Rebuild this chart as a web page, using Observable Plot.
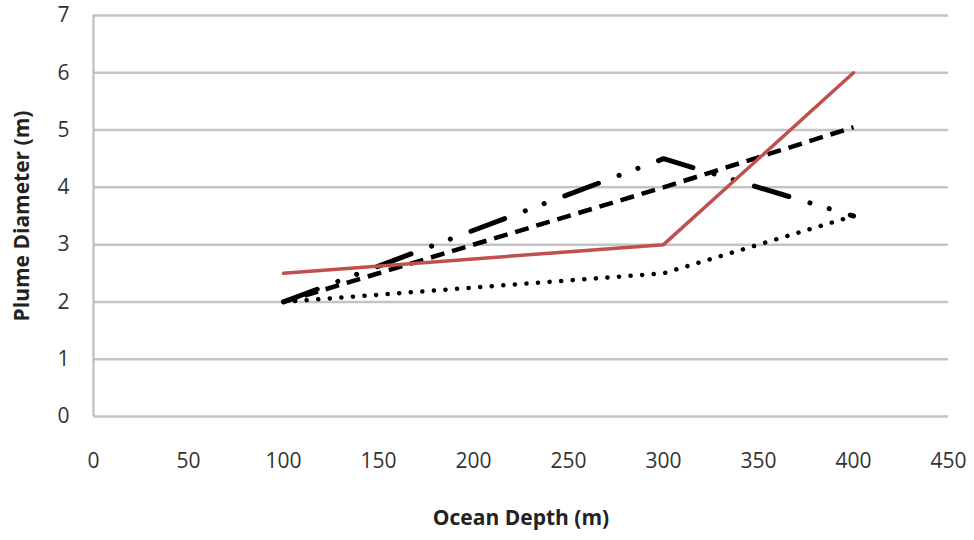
<!DOCTYPE html>
<html>
<head>
<meta charset="utf-8">
<script src="https://cdn.jsdelivr.net/npm/d3@7"></script>
<script src="https://cdn.jsdelivr.net/npm/@observablehq/plot@0.6"></script>
<style>
  html, body { margin: 0; padding: 0; background: #fff; }
  #chart { width: 974px; height: 540px; }
</style>
</head>
<body>
<div id="chart"></div>
<script>
const depths = [100, 300, 400];
const solidRed = [2.5, 3.0, 6.0];
const dashed = [2.0, 4.0, 5.05];
const dashDotDot = [2.0, 4.5, 3.5];
const dotted = [2.0, 2.5, 3.5];
const xTicks = [0, 50, 100, 150, 200, 250, 300, 350, 400, 450];
const yTicks = [0, 1, 2, 3, 4, 5, 6, 7];
const xLabel = "Ocean Depth (m)";
const yLabel = "Plume Diameter (m)";

const toRows = (vals) => depths.map((d, i) => ({depth: d, value: vals[i]}));

const font = "'Open Sans', 'Liberation Sans', sans-serif";

const chart = Plot.plot({
  width: 974,
  height: 540,
  marginLeft: 93,
  marginRight: 26,
  marginTop: 15,
  marginBottom: 124,
  style: {fontFamily: font, fontSize: "21px", color: "#333", background: "#fff"},
  x: {domain: [0, 450], ticks: xTicks, tickSize: 0, tickPadding: 37, label: null, tickFormat: d3.format("d")},
  y: {domain: [0, 7], ticks: yTicks, tickSize: 0, tickPadding: 24, label: null, tickFormat: d3.format("d")},
  marks: [
    Plot.ruleY(yTicks, {stroke: "#c4c4c4", strokeWidth: 2.5}),
    Plot.ruleX([0], {stroke: "#b8b8b8", strokeWidth: 2}),
    Plot.line(toRows(dotted), {x: "depth", y: "value", stroke: "#000", strokeWidth: 4.5,
      strokeDasharray: "0.1,11.5", strokeLinecap: "round"}),
    Plot.line(toRows(dashDotDot), {x: "depth", y: "value", stroke: "#000", strokeWidth: 5,
      strokeDasharray: "36,22,0.1,20,0.1,22", strokeLinecap: "round"}),
    Plot.line(toRows(dashed), {x: "depth", y: "value", stroke: "#000", strokeWidth: 4.5,
      strokeDasharray: "14,8", strokeLinecap: "butt"}),
    Plot.line(toRows(solidRed), {x: "depth", y: "value", stroke: "#c0504d", strokeWidth: 3.5}),
    Plot.text([xLabel], {frameAnchor: "bottom", dy: 108, fontWeight: "bold", fontSize: 21, fill: "#222"}),
    Plot.text([yLabel], {frameAnchor: "left", dx: -71, rotate: -90, textAnchor: "middle", lineAnchor: "middle",
      fontWeight: "bold", fontSize: 21, fill: "#222"})
  ]
});
document.getElementById("chart").appendChild(chart);
</script>
</body>
</html>
